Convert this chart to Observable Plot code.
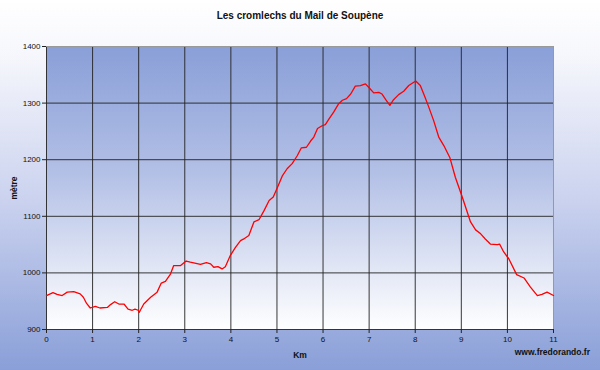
<!DOCTYPE html>
<html>
<head>
<meta charset="utf-8">
<script src="https://cdn.jsdelivr.net/npm/d3@7"></script>
<script src="https://cdn.jsdelivr.net/npm/@observablehq/plot@0.6"></script>
<style>
  html, body { margin: 0; padding: 0; }
  #wrap {
    position: relative; width: 600px; height: 370px; overflow: hidden;
    background: linear-gradient(to bottom, #ffffff 0%, #f6f7fc 15%, #c9d1ee 55%, #8a9fd8 100%);
    font-family: "Liberation Sans", Arial, sans-serif; color: #111;
  }
  #wrap svg { position: absolute; left: 0; top: 0; }
  .lbl { position: absolute; font-weight: bold; white-space: nowrap; }
</style>
</head>
<body>
<div id="wrap"></div>
<script>
const title = "Les cromlechs du Mail de Soupène";
const yLabel = "mètre";
const xLabel = "Km";
const caption = "www.fredorando.fr";

const xTicks = [0,1,2,3,4,5,6,7,8,9,10,11];
const yTicks = [900,1000,1100,1200,1300,1400];

const km = [0,0.14,0.23,0.34,0.45,0.59,0.73,0.80,0.87,0.95,1.06,1.16,1.32,1.39,1.48,1.57,1.68,1.77,1.86,1.92,1.99,2.01,2.11,2.26,2.40,2.49,2.58,2.69,2.76,2.91,3.03,3.12,3.34,3.47,3.56,3.63,3.72,3.81,3.88,3.99,4.10,4.21,4.28,4.39,4.50,4.61,4.72,4.83,4.92,5.01,5.12,5.22,5.33,5.44,5.53,5.64,5.73,5.80,5.88,5.98,6.05,6.13,6.23,6.34,6.42,6.51,6.60,6.70,6.81,6.92,6.99,7.10,7.21,7.28,7.36,7.45,7.53,7.64,7.75,7.86,8.01,8.11,8.20,8.28,8.40,8.51,8.62,8.75,8.87,9.02,9.20,9.31,9.42,9.52,9.63,9.78,9.83,9.92,10.03,10.20,10.36,10.50,10.65,10.75,10.86,11.0];
const alt = [960,965,962,960,966,967,963,957,946,938,941,938,939,944,949,945,945,936,934,936,934,930,945,957,966,982,985,998,1013,1013,1021,1019,1015,1018,1016,1010,1011,1007,1011,1031,1045,1057,1060,1066,1090,1094,1110,1128,1134,1151,1172,1184,1193,1207,1221,1222,1233,1240,1255,1260,1262,1272,1284,1299,1305,1308,1316,1330,1331,1334,1328,1318,1319,1316,1306,1296,1306,1315,1321,1331,1339,1331,1313,1296,1269,1240,1225,1204,1169,1134,1090,1076,1069,1060,1051,1050,1051,1037,1025,997,991,975,960,962,966,960];

const data = km.map((k, i) => ({km: k, alt: alt[i]}));
const fmt = d3.format("d");

const chart = Plot.plot({
  width: 600,
  height: 370,
  marginTop: 46,
  marginBottom: 41,
  marginLeft: 46,
  marginRight: 47,
  style: {background: "transparent", fontFamily: "'Liberation Sans', Arial, sans-serif", fontSize: "8px", color: "#111"},
  x: {domain: [0, 11], label: null},
  y: {domain: [900, 1400], label: null},
  marks: [
    Plot.frame({fill: "url(#plotgrad)", stroke: null}),
    Plot.gridX(xTicks.filter(d => d < 11), {stroke: "#222", strokeOpacity: 0.9, strokeWidth: 1}),
    Plot.gridY(yTicks.filter(d => d < 1400), {stroke: "#222", strokeOpacity: 0.9, strokeWidth: 1}),
    Plot.ruleX([11], {stroke: "#999"}),
    Plot.ruleY([1400], {stroke: "#999"}),
    Plot.axisX({ticks: xTicks, tickSize: 4, tickPadding: 3, tickFormat: fmt, label: null, stroke: "#222", fill: "#111"}),
    Plot.axisY({ticks: yTicks, tickSize: 4, tickPadding: 2, tickFormat: fmt, label: null, stroke: "#222", fill: "#111"}),
    Plot.line(data, {x: "km", y: "alt", stroke: "#ff0000", strokeWidth: 1.3, curve: "linear"})
  ]
});

chart.insertAdjacentHTML("afterbegin",
  '<defs><linearGradient id="plotgrad" x1="0" y1="0" x2="0" y2="1">' +
  '<stop offset="0%" stop-color="#8a9fd8"/>' +
  '<stop offset="45%" stop-color="#b3c0e6"/>' +
  '<stop offset="100%" stop-color="#ffffff"/>' +
  '</linearGradient></defs>');

const wrap = document.getElementById("wrap");
wrap.appendChild(chart);

function addLabel(text, css) {
  const d = document.createElement("div");
  d.className = "lbl";
  d.textContent = text;
  Object.assign(d.style, css);
  wrap.appendChild(d);
  return d;
}
addLabel(title, {left: "0px", width: "600px", textAlign: "center", top: "10px", fontSize: "10px"});
addLabel(xLabel, {left: "250px", width: "100px", textAlign: "center", top: "350px", fontSize: "8.5px"});
addLabel(caption, {right: "10px", top: "347px", fontSize: "8.5px"});
addLabel(yLabel, {left: "14px", top: "188px", fontSize: "8.5px", transform: "translate(-50%, -50%) rotate(-90deg)"});
</script>
</body>
</html>
